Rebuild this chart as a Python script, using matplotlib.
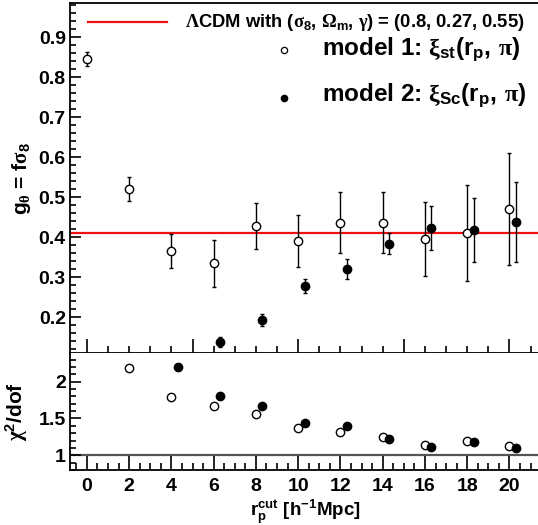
import numpy as np
import matplotlib
matplotlib.use('Agg')
import matplotlib.pyplot as plt
from matplotlib.ticker import MultipleLocator

# g_theta = f sigma_8 vs r_p cut
rcut_1 = [0, 2, 4, 6, 8, 10, 12, 14, 16, 18, 20]
g_1 = [0.845, 0.519, 0.365, 0.334, 0.428, 0.390, 0.436, 0.436, 0.395, 0.410, 0.470]
g_1_err = [0.018, 0.030, 0.043, 0.058, 0.058, 0.065, 0.076, 0.077, 0.093, 0.120, 0.140]

rcut_2 = [6.3, 8.3, 10.3, 12.3, 14.3, 16.3, 18.3, 20.3]
g_2 = [0.137, 0.192, 0.278, 0.320, 0.383, 0.423, 0.418, 0.437]
g_2_err = [0.012, 0.015, 0.017, 0.025, 0.026, 0.055, 0.080, 0.100]

# chi2/dof
chi_x1 = [2, 4, 6, 8, 10, 12, 14, 16, 18, 20]
chi_1 = [2.19, 1.79, 1.67, 1.555, 1.364, 1.314, 1.25, 1.146, 1.20, 1.127]
chi_x2 = [4.3, 6.3, 8.3, 10.3, 12.3, 14.3, 16.3, 18.3, 20.3]
chi_2 = [2.20, 1.80, 1.67, 1.44, 1.396, 1.228, 1.109, 1.177, 1.105]

g_lcdm = 0.41

plt.rcParams['font.family'] = ['Liberation Sans', 'DejaVu Sans']
plt.rcParams['font.weight'] = 'bold'
plt.rcParams['mathtext.fontset'] = 'custom'
plt.rcParams['mathtext.rm'] = 'Liberation Serif'
plt.rcParams['mathtext.bf'] = 'Liberation Sans:bold'
plt.rcParams['mathtext.it'] = 'Liberation Sans:bold'
plt.rcParams['mathtext.default'] = 'bf'

W, H = 538, 525
fig = plt.figure(figsize=(W / 100, H / 100), dpi=100)
ax1 = fig.add_axes([70 / W, 1 - 353 / H, 1 - 70 / W, 350 / H])
ax2 = fig.add_axes([70 / W, 1 - 470 / H, 1 - 70 / W, 117 / H])

for ax in (ax1, ax2):
    ax.set_xlim(-0.8, 21.35)
    ax.spines['right'].set_visible(False)
    for s in ax.spines.values():
        s.set_linewidth(1.3)

ax2.spines['top'].set_visible(False)

# top panel
ax1.set_ylim(0.11, 0.985)
ax1.axhline(g_lcdm, color='#ee1111', lw=1.6, zorder=1)
ax1.errorbar(rcut_1, g_1, yerr=g_1_err, fmt='o', mfc='white', mec='black', ecolor='black',
             ms=6, mew=1.0, elinewidth=1.0, capsize=1.5, capthick=1.0, zorder=3)
ax1.errorbar(rcut_2, g_2, yerr=g_2_err, fmt='o', mfc='black', mec='black', ecolor='black',
             ms=6, mew=1.0, elinewidth=1.0, capsize=1.5, capthick=1.0, zorder=3)

ax1.xaxis.set_major_locator(MultipleLocator(5))
ax1.xaxis.set_minor_locator(MultipleLocator(1))
ax1.yaxis.set_major_locator(MultipleLocator(0.1))
ax1.yaxis.set_minor_locator(MultipleLocator(0.02))
ax1.tick_params(axis='x', which='both', direction='in', labelbottom=False, width=1.2)
ax1.tick_params(axis='x', which='major', length=10)
ax1.tick_params(axis='x', which='minor', length=5)
ax1.tick_params(axis='y', which='both', direction='in', width=1.2, labelsize=14, pad=3)
ax1.tick_params(axis='y', which='major', length=8)
ax1.tick_params(axis='y', which='minor', length=4)
ax1.set_ylabel(r'$g_{\mathrm{\theta}}$ = f$\mathrm{\sigma}_{8}$', fontsize=15, fontweight='bold')
ax1.yaxis.set_label_coords(-0.08, 0.5)

# legend (drawn by hand)
ax1.plot([0.0385, 0.207], [0.9457, 0.9457], color='#ee1111', lw=1.6, transform=ax1.transAxes)
ax1.text(0.2457, 0.9457, r'$\mathrm{\Lambda}$CDM with ($\mathrm{\sigma}_{8}$, $\mathrm{\Omega}_{m}$, $\mathrm{\gamma}$) = (0.8, 0.27, 0.55)',
         transform=ax1.transAxes, fontsize=13.2, fontweight='bold', va='center', ha='left')
ax1.plot([0.457], [0.866], 'o', mfc='white', mec='black', ms=4.5, mew=0.9, transform=ax1.transAxes)
ax1.plot([0.457], [0.729], 'o', mfc='black', mec='black', ms=4.5, transform=ax1.transAxes)
ax1.text(0.538, 0.866, r'model 1: $\mathrm{\xi}_{st}(r_{p},\,\mathrm{\pi})$',
         transform=ax1.transAxes, fontsize=17.5, fontweight='bold', va='center', ha='left')
ax1.text(0.538, 0.735, r'model 2: $\mathrm{\xi}_{Sc}(r_{p},\,\mathrm{\pi})$',
         transform=ax1.transAxes, fontsize=17.5, fontweight='bold', va='center', ha='left')

# bottom panel
ax2.set_ylim(0.8, 2.39)
ax2.axhline(1, color='#555555', lw=1.6, zorder=1)
ax2.plot(chi_x1, chi_1, 'o', mfc='white', mec='black', ms=6, mew=1.0, zorder=3)
ax2.plot(chi_x2, chi_2, 'o', mfc='black', mec='black', ms=6, zorder=3)
ax2.xaxis.set_major_locator(MultipleLocator(2))
ax2.xaxis.set_minor_locator(MultipleLocator(0.5))
ax2.yaxis.set_major_locator(MultipleLocator(0.5))
ax2.yaxis.set_minor_locator(MultipleLocator(0.1))
ax2.yaxis.set_major_formatter(plt.FuncFormatter(lambda v, p: '%g' % v))
ax2.tick_params(axis='x', which='both', direction='in', width=1.2, labelsize=14, pad=6)
ax2.tick_params(axis='x', which='major', length=10)
ax2.tick_params(axis='x', which='minor', length=5)
ax2.tick_params(axis='y', which='both', direction='in', width=1.2, labelsize=14, pad=3)
ax2.tick_params(axis='y', which='major', length=8)
ax2.tick_params(axis='y', which='minor', length=4)
ax2.set_ylabel(r'$\mathrm{\chi}^{2}$/dof', fontsize=15, fontweight='bold')
ax2.yaxis.set_label_coords(-0.085, 0.5)
ax2.set_xlabel(r'$r_{p}^{cut}$ [h$^{-1}$Mpc]', fontsize=13.5, fontweight='bold')
ax2.xaxis.set_label_coords(0.504, -0.235)

fig.savefig('out.png', dpi=100)
